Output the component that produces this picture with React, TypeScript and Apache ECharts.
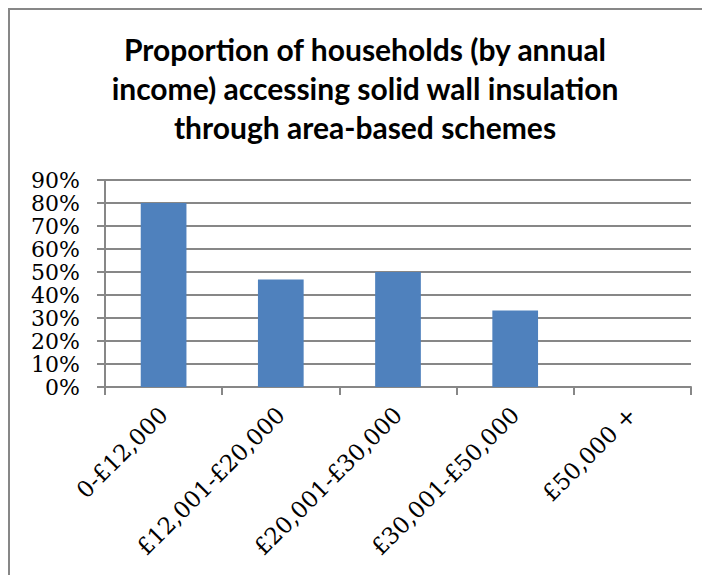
import React, { useEffect, useRef } from "react";
import * as echarts from "echarts";

const categories = ["0-£12,000", "£12,001-£20,000", "£20,001-£30,000", "£30,001-£50,000", "£50,000 +"];
const values = [0.8, 0.467, 0.5, 0.333, 0];
const titleLines = [
  "Proportion of households (by annual",
  "income) accessing solid wall insulation",
  "through area-based schemes",
];

export default function App() {
  const ref = useRef<HTMLDivElement>(null);
  useEffect(() => {
    if (!ref.current) return;
    const chart = echarts.init(ref.current, null, { renderer: "svg" });
    const serif = "DejaVu Serif";
    chart.setOption({
      animation: false,
      backgroundColor: "#ffffff",
      title: {
        text: titleLines.join("\n"),
        left: 355,
        textAlign: "center",
        top: 19,
        padding: 0,
        textStyle: {
          fontFamily: "Lato",
          fontWeight: "bold",
          fontSize: 30,
          lineHeight: 39,
          color: "#000000",
        },
      },
      grid: { left: 95, right: 19, top: 170, bottom: 188, containLabel: false },
      xAxis: {
        type: "category",
        data: categories,
        axisLine: { show: true, lineStyle: { color: "#878787", width: 2 } },
        axisTick: { show: true, length: 8, alignWithLabel: false, lineStyle: { color: "#878787", width: 2 } },
        axisLabel: {
          rotate: 45,
          interval: 0,
          margin: 24,
          fontFamily: serif,
          fontSize: 23,
          color: "#000000",
        },
      },
      yAxis: {
        type: "value",
        min: 0,
        max: 0.9,
        interval: 0.1,
        axisLine: { show: true, lineStyle: { color: "#878787", width: 2 } },
        axisTick: { show: true, length: 8, lineStyle: { color: "#878787", width: 2 } },
        splitLine: { show: true, lineStyle: { color: "#878787", width: 2 } },
        axisLabel: {
          margin: 25,
          fontFamily: serif,
          fontSize: 22,
          lineHeight: 20,
          color: "#000000",
          formatter: (v: number) => Math.round(v * 100) + "%",
        },
      },
      series: [
        {
          type: "bar",
          data: values,
          barWidth: "39%",
          itemStyle: { color: "#4f81bd" },
        },
      ],
    });
    return () => chart.dispose();
  }, []);
  return (
    <div
      style={{
        width: 702,
        height: 567,
        boxSizing: "border-box",
        borderLeft: "2px solid #878787",
        borderTop: "2px solid #878787",
        overflow: "hidden",
      }}
    >
      <div ref={ref} style={{ width: 700, height: 565 }} />
    </div>
  );
}
